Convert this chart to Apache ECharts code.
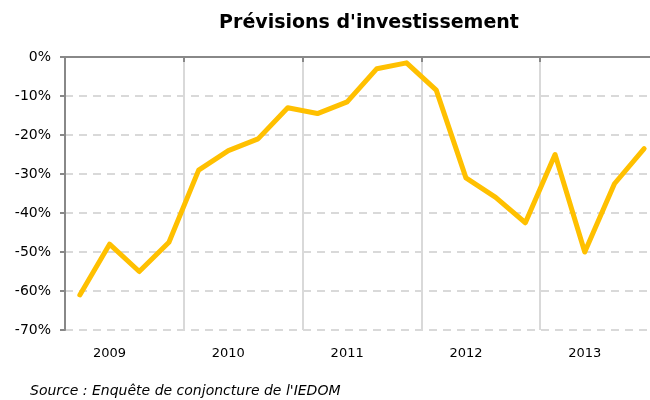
<!DOCTYPE html>
<html>
<head>
<meta charset="utf-8">
<script src="https://cdn.jsdelivr.net/npm/echarts@6/dist/echarts.min.js"></script>
<style>
  html, body { margin: 0; padding: 0; background: #fff; }
  #chart { width: 650px; height: 400px; }
</style>
</head>
<body>
<div id="chart"></div>
<script>
const years = ["2009", "2010", "2011", "2012", "2013"];
const quarters = [
  "2009T1", "2009T2", "2009T3", "2009T4",
  "2010T1", "2010T2", "2010T3", "2010T4",
  "2011T1", "2011T2", "2011T3", "2011T4",
  "2012T1", "2012T2", "2012T3", "2012T4",
  "2013T1", "2013T2", "2013T3", "2013T4"
];
const investment = [
  -61, -48, -55, -47.5,
  -29, -24, -21, -13,
  -14.5, -11.5, -3, -1.5,
  -8.5, -31, -36, -42.5,
  -25, -50, -32.5, -23.5
];

const chartDom = document.getElementById("chart");
const myChart = echarts.init(chartDom);
const font = "'DejaVu Sans', sans-serif";

const option = {
  animation: false,
  title: {
    text: "Prévisions d'investissement",
    left: 364,
    textAlign: "center",
    top: 9,
    textStyle: { fontFamily: font, fontSize: 19, fontWeight: "bold", color: "#000" }
  },
  // plot runs past the right edge, like the original export
  grid: { left: 65, top: 57, width: 594, height: 273, outerBoundsMode: "none", containLabel: false },
  xAxis: [
    {
      type: "category",
      data: quarters,
      position: "top",
      boundaryGap: true,
      axisLine: { lineStyle: { color: "#888", width: 2 } },
      axisTick: { show: true, inside: true, length: 5, interval: (i) => i % 4 === 0, lineStyle: { color: "#888", width: 2 } },
      axisLabel: { show: false },
      splitLine: { show: false }
    },
    {
      // year labels sit under the 2nd quarter, separators between years
      type: "category",
      data: quarters,
      position: "bottom",
      boundaryGap: true,
      axisLine: { show: false },
      axisTick: { show: false },
      axisLabel: {
        interval: 0,
        formatter: (v, i) => (i % 4 === 1 ? years[Math.floor(i / 4)] : ""),
        fontFamily: font, fontSize: 13, color: "#000", margin: 17
      },
      splitLine: { show: true, interval: (i) => i % 4 === 0 && i > 0, lineStyle: { color: "#d9d9d9", width: 2 } }
    }
  ],
  yAxis: {
    type: "value",
    min: -70,
    max: 0,
    interval: 10,
    axisLine: { show: true, lineStyle: { color: "#888", width: 2 } },
    axisTick: { show: true, length: 5, lineStyle: { color: "#888", width: 2 } },
    axisLabel: { formatter: "{value}%", fontFamily: font, fontSize: 14, color: "#000", margin: 14 },
    splitLine: { show: true, lineStyle: { color: "#d9d9d9", type: [8, 6], width: 2 } }
  },
  series: [
    {
      type: "line",
      xAxisIndex: 0,
      data: investment,
      showSymbol: false,
      lineStyle: { color: "#FFC000", width: 5, cap: "round", join: "round" }
    }
  ],
  graphic: [
    {
      type: "text",
      left: 30,
      top: 384,
      style: {
        text: "Source : Enquête de conjoncture de l'IEDOM",
        fontFamily: font,
        fontSize: 14,
        fontStyle: "italic",
        fill: "#000"
      }
    }
  ]
};

option && myChart.setOption(option);
</script>
</body>
</html>
